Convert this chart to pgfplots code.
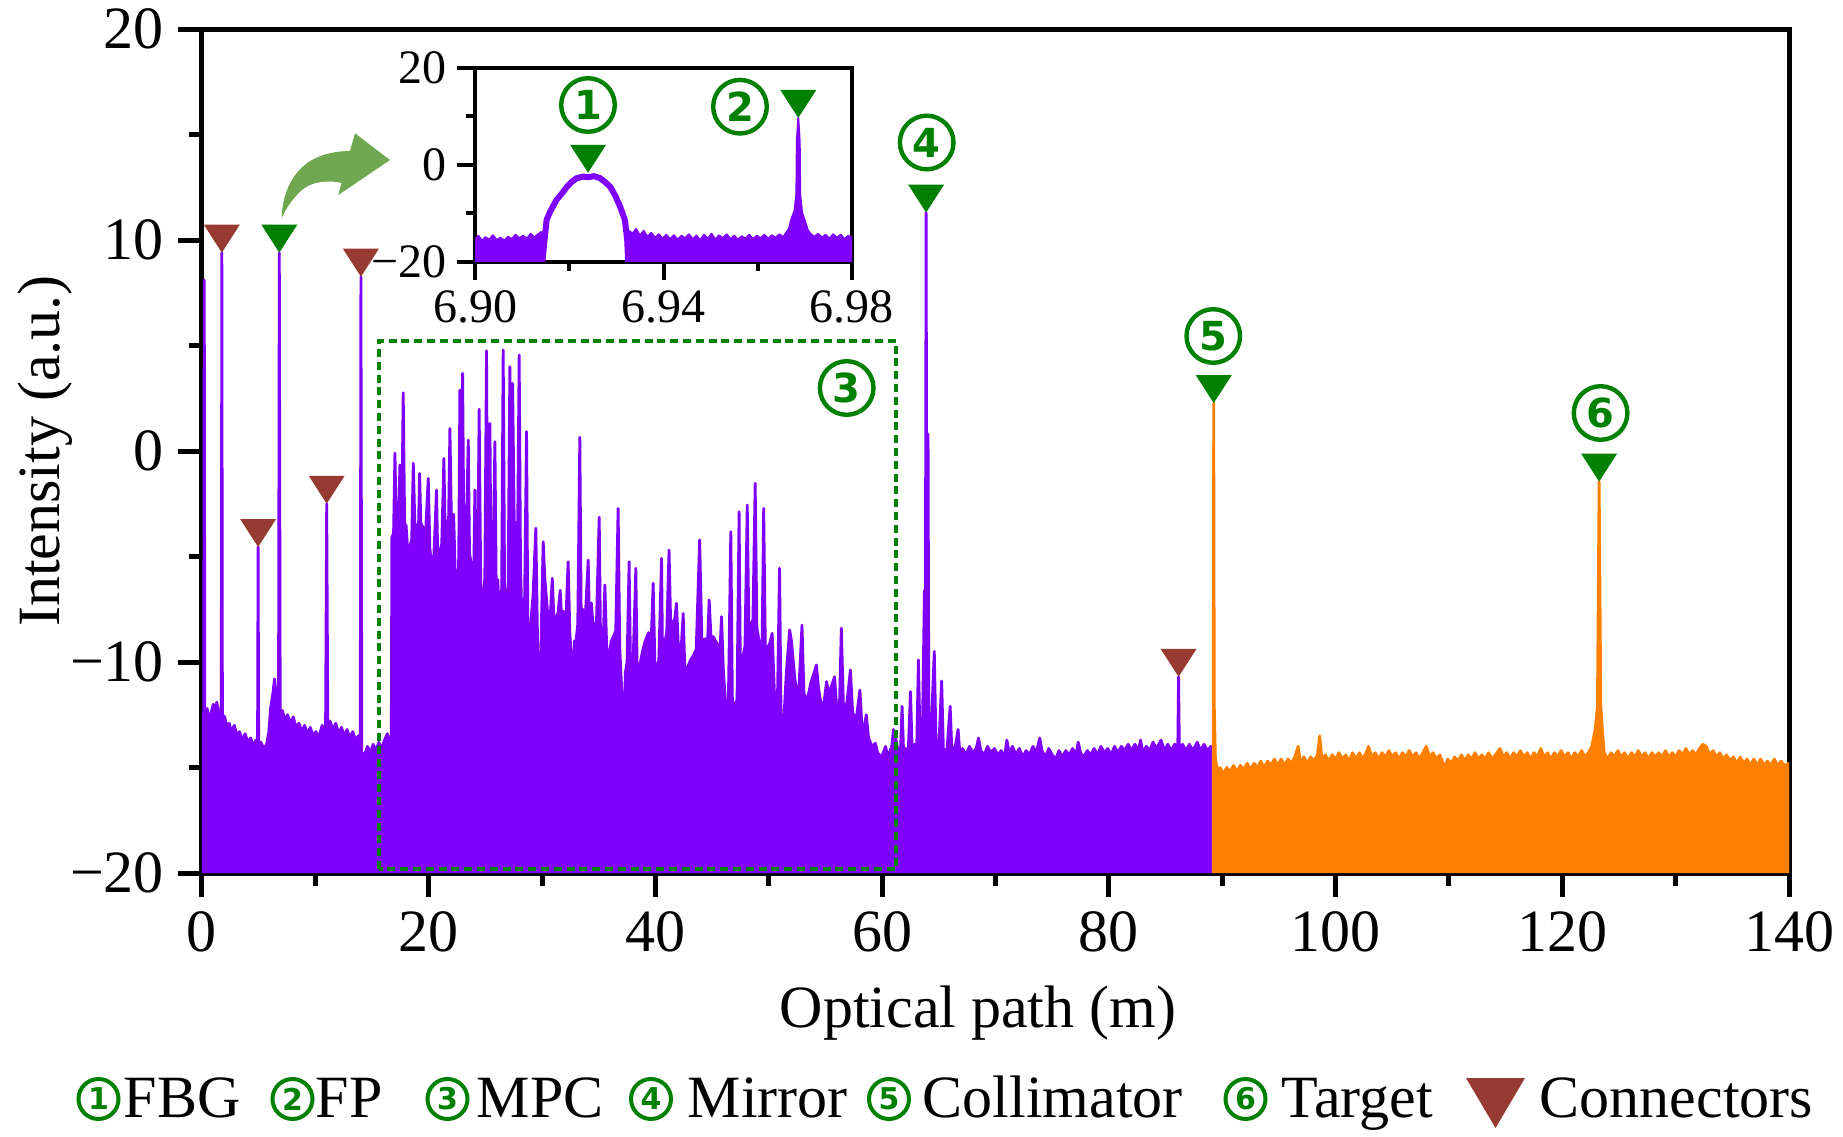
\documentclass[border=0pt]{standalone}
\usepackage{fontspec}
\setmainfont{Liberation Serif}
\newfontfamily\cdfont{DejaVu Sans}
\usepackage{pgfplots}
\pgfplotsset{compat=1.18}
\definecolor{vio}{RGB}{127,0,255}
\definecolor{org}{RGB}{255,128,0}
\definecolor{gg}{RGB}{0,128,0}
\definecolor{br}{RGB}{150,58,50}
\definecolor{ag}{RGB}{112,168,82}
\pgfdeclareplotmark{dtri}{\pgfpathmoveto{\pgfpointorigin}\pgfpathlineto{\pgfpoint{-4.5pt}{7pt}}\pgfpathlineto{\pgfpoint{4.5pt}{7pt}}\pgfpathclose\pgfusepathqfill}
\tikzset{cnum/.style={circle, draw=gg, line width=1.1pt, inner sep=0pt, minimum size=13.4pt, text=gg, font=\fontsize{10}{10}\cdfont\bfseries},
 cnuml/.style={circle, draw=gg, line width=1pt, inner sep=0pt, minimum size=10pt, text=gg, font=\fontsize{7.5}{7.5}\cdfont\bfseries}}
\begin{document}
\begin{tikzpicture}[font=\fontsize{15}{18}\selectfont]
\begin{axis}[at={(0pt,0pt)}, anchor=south west, scale only axis, width=396.75pt, height=211pt,
 xmin=0, xmax=140, ymin=-20, ymax=20,
 xtick={0,20,40,60,80,100,120,140}, xticklabels={0,20,40,60,80,100,120,140},
 minor xtick={10,30,50,70,90,110,130},
 ytick={-20,-10,0,10,20}, yticklabels={−20,−10,0,10,20}, minor ytick={-15,-5,5,15},
 xtick pos=bottom, ytick pos=left, tick align=outside,
 major tick length=6pt, minor tick length=3.2pt,
 major tick style={line width=1.25pt, black}, minor tick style={line width=1.25pt, black},
 axis line style={line width=1.25pt},
 tick label style={font=\fontsize{15}{18}\selectfont},
 xlabel={Optical path (m)}, ylabel={Intensity (a.u.)},
 label style={font=\fontsize{15}{18}\selectfont},
 every axis x label/.style={at={(axis description cs:0.489,-0.166)}, anchor=center},
 every axis y label/.style={at={(axis description cs:-0.0989,0.5)}, rotate=90, anchor=center},
]
\addplot[draw=vio, fill=vio, line width=0.7pt, line join=round, mark=none] coordinates {
(0,-20) (0,-12.6) (0.15,-12.4) (0.2,8.1) (0.25,-12.5) (0.45,-12.2) (0.65,-12.8) (0.85,-12.3) (1.0,-12.0) (1.2,-12.5) (1.3,-11.9) (1.45,-12.3) (1.7,-12.4) (1.75,9.4) (1.8,-12.5) (2.0,-12.6) (2.2,-13.1) (2.4,-12.9) (2.6,-13.3) (2.85,-13.0) (3.1,-13.5) (3.3,-13.3) (3.55,-13.7) (3.8,-13.4) (4.05,-13.8) (4.3,-13.6) (4.55,-14.0) (4.75,-13.7) (4.9,-14.1) (4.95,-4.55) (5.0,-14.1) (5.2,-13.8) (5.45,-14.1) (5.7,-13.9) (5.9,-13.3) (6.05,-12.2) (6.25,-11.5) (6.4,-10.8) (6.55,-11.6) (6.75,-12.4) (6.82,9.4) (6.9,-12.6) (7.1,-12.3) (7.3,-12.8) (7.55,-12.5) (7.8,-12.9) (8.05,-12.6) (8.3,-13.1) (8.55,-12.9) (8.8,-13.3) (9.05,-13.0) (9.3,-13.4) (9.55,-13.1) (9.8,-13.5) (10.05,-13.3) (10.3,-13.6) (10.6,-13.0) (10.9,-13.3) (11.0,-2.5) (11.1,-13.2) (11.3,-12.8) (11.55,-13.2) (11.8,-12.9) (12.05,-13.4) (12.3,-13.1) (12.55,-13.5) (12.8,-13.2) (13.05,-13.6) (13.3,-13.3) (13.55,-13.7) (13.8,-13.5) (13.96,-14.0) (14.02,8.26) (14.1,-14.3) (14.35,-14.4) (14.6,-14.0) (14.85,-14.3) (15.1,-13.9) (15.35,-14.2) (15.6,-13.8) (15.85,-14.1) (16.1,-13.7) (16.35,-13.4) (16.55,-13.8) (16.7,-13.6)
(16.75,-4.1) (16.9,-3.9) (17.02,-0.1) (17.15,-3.8) (17.3,-4.2) (17.46,-0.66) (17.6,-4.4) (17.75,2.76) (17.9,-4.6) (18.0,-3.5) (18.15,-4.7) (18.35,-4.5) (18.5,-4.2) (18.64,-0.58) (18.8,-3.9) (18.95,-3.5) (19.1,-3.6) (19.2,-1.06) (19.3,-3.4) (19.55,-3.7) (19.75,-3.6) (19.96,-1.3) (20.1,-4.6) (20.25,-5.4) (20.45,-5.0) (20.69,-1.85) (20.8,-5.1) (21.0,-4.7) (21.15,-4.4) (21.34,-0.35) (21.45,-3.8) (21.6,-3.3) (21.75,-3.4) (21.87,1.07) (22.0,-3.2) (22.2,-3.0) (22.35,-6.0) (22.5,-8.0) (22.65,-5.0) (22.75,2.89) (22.85,-4.5) (22.99,3.68) (23.1,-4.0) (23.3,-4.3) (23.49,0.52) (23.6,-4.85) (23.8,-5.5) (23.95,-6.8) (24.07,-1.85) (24.2,-7.2) (24.3,-6.5) (24.45,1.98) (24.6,-6.9) (24.8,-6.9) (24.95,-6.0) (25.1,4.75) (25.2,-6.2) (25.4,1.31) (25.5,-6.4) (25.65,-6.0) (25.84,0.44) (25.95,-6.2) (26.1,-6.1) (26.25,-8.0) (26.4,-9.4) (26.57,4.79) (26.7,-7.0) (26.85,-6.6) (27.0,-6.75) (27.16,4.0) (27.3,-4.5) (27.4,3.21) (27.55,-3.6) (27.7,-3.4) (27.85,-3.6) (27.98,4.55) (28.1,-5.5) (28.3,-9.6) (28.45,-7.5) (28.63,0.92) (28.75,-8.5) (28.9,-9.2) (29.05,-7.8) (29.2,-6.9) (29.45,-3.66) (29.6,-9.0) (29.8,-12.4) (29.95,-8.0) (30.1,-4.3) (30.25,-6.1) (30.45,-7.4) (30.6,-8.5) (30.75,-7.6) (30.9,-6.03) (31.05,-8.0) (31.2,-7.9) (31.4,-7.7) (31.6,-6.6) (31.75,-8.2) (31.9,-7.6) (32.1,-8.0) (32.3,-5.25) (32.45,-8.6) (32.6,-10.0) (32.7,-11.6) (32.85,-9.0) (33.0,-9.0) (33.15,-8.2) (33.33,0.65) (33.45,-7.8) (33.6,-7.5) (33.8,-8.0) (34.07,-5.17) (34.2,-8.5) (34.35,-7.2) (34.5,-8.3) (34.8,-8.1) (35.04,-3.14) (35.15,-8.6) (35.4,-8.9) (35.54,-6.35) (35.7,-9.3) (35.9,-9.8) (36.1,-9.0) (36.3,-8.8) (36.5,-8.5) (36.71,-2.72) (36.85,-9.3) (37.0,-11.0) (37.2,-13.6) (37.35,-10.5) (37.5,-10.0) (37.68,-5.25) (37.8,-10.2) (38.0,-10.6) (38.27,-5.56) (38.4,-10.9) (38.6,-10.2) (38.9,-9.4) (39.1,-9.0) (39.4,-8.6) (39.6,-9.4) (39.8,-6.27) (39.95,-10.0) (40.1,-10.4) (40.3,-9.9) (40.54,-5.09) (40.7,-13.6) (40.85,-9.0) (41.0,-8.6) (41.2,-4.69) (41.35,-8.3) (41.5,-8.1) (41.7,-8.0) (41.86,-7.22) (42.0,-9.0) (42.2,-10.0) (42.45,-7.7) (42.6,-10.5) (42.8,-10.3) (43.1,-9.9) (43.3,-9.75) (43.6,-9.4) (43.9,-4.22) (44.1,-9.0) (44.4,-8.9) (44.6,-9.1) (44.74,-7.06) (44.9,-8.8) (45.1,-8.8) (45.4,-9.1) (45.7,-9.4) (45.83,-7.85) (46.0,-10.5) (46.2,-12.0) (46.4,-13.2) (46.65,-3.82) (46.8,-12.5) (47.0,-12.0) (47.2,-11.8) (47.38,-2.88) (47.5,-10.8) (47.7,-9.8) (47.9,-9.25) (48.1,-2.56) (48.25,-8.6) (48.45,-8.2) (48.6,-8.0) (48.8,-1.53) (48.95,-8.4) (49.15,-9.0) (49.4,-9.6) (49.55,-2.72) (49.7,-9.5) (49.9,-9.3) (50.1,-9.1) (50.3,-8.64) (50.5,-11.5) (50.7,-14.0) (50.95,-5.56) (51.1,-13.5) (51.3,-13.0) (51.55,-10.5) (51.84,-8.48) (52.0,-9.0) (52.3,-10.8) (52.6,-11.9) (52.93,-8.25) (53.1,-11.5) (53.4,-11.8) (53.7,-11.0) (54.0,-10.5) (54.2,-10.14) (54.4,-11.3) (54.7,-12.25) (54.9,-11.8) (55.1,-10.93) (55.3,-11.5) (55.5,-11.2) (55.8,-10.7) (56.0,-12.2) (56.2,-12.9) (56.4,-8.4) (56.6,-12.4) (56.9,-11.9) (57.2,-10.38) (57.4,-12.4) (57.7,-12.75) (58.04,-11.33) (58.2,-12.9) (58.4,-13.2) (58.6,-12.5) (58.8,-13.6) (59.1,-14.0) (59.4,-13.85) (59.6,-14.3) (59.9,-14.5) (60.1,-14.3) (60.3,-14.0) (60.5,-14.5) (60.6,-14.35) (60.85,-14.0) (61.0,-13.2) (61.2,-13.6)
(61.4,-14.2) (61.6,-14.5) (61.76,-12.1) (61.9,-14.4) (62.1,-14.1) (62.3,-14.3) (62.5,-11.4) (62.65,-14.2) (62.85,-13.9) (63.05,-14.1) (63.2,-9.9) (63.35,-13.8) (63.55,-13.5) (63.73,-6.6) (63.8,-12.5) (63.88,11.3) (63.96,-12.0) (64.05,0.8) (64.12,-12.8) (64.3,-13.6) (64.6,-9.5) (64.75,-13.8) (65.0,-14.0) (65.25,-10.9) (65.4,-14.1) (65.7,-14.3) (66.0,-12.1) (66.15,-14.2) (66.45,-14.0) (66.7,-13.2) (66.85,-14.3)
(67.1,-14.1) (67.4,-14.4) (67.7,-14.0) (68.0,-14.3) (68.3,-14.1) (68.5,-13.6) (68.7,-14.2) (69.0,-14.4) (69.3,-14.0) (69.6,-14.3) (69.9,-14.1) (70.2,-14.4) (70.5,-14.2) (70.8,-14.5) (71.0,-13.7) (71.2,-14.3) (71.5,-14.0) (71.8,-14.4) (72.1,-14.1) (72.4,-14.5) (72.7,-14.2) (73.0,-14.4) (73.3,-14.0) (73.6,-14.3) (73.9,-13.6) (74.1,-14.2) (74.4,-14.5) (74.7,-14.1) (75.0,-14.4) (75.3,-14.6) (75.6,-14.2) (75.9,-14.5) (76.2,-14.2) (76.5,-14.4) (76.8,-14.1) (77.1,-14.4) (77.3,-13.8) (77.5,-14.3) (77.8,-14.5) (78.1,-14.2) (78.4,-14.4) (78.7,-14.1) (79.0,-14.4) (79.3,-14.0) (79.6,-14.3) (79.9,-14.1) (80.2,-14.4) (80.5,-14.0) (80.8,-14.3) (81.1,-14.0) (81.4,-14.2) (81.7,-13.9) (82.0,-14.2) (82.3,-13.9) (82.6,-14.2) (82.8,-13.7) (83.0,-14.3) (83.3,-14.0) (83.6,-14.2) (83.9,-13.8) (84.2,-14.1) (84.6,-13.7) (84.9,-14.2) (85.2,-13.9) (85.5,-14.2) (85.8,-13.9) (86.08,-14.1) (86.15,-10.7) (86.22,-14.2) (86.5,-13.9) (86.8,-14.2) (87.1,-13.9) (87.4,-14.2) (87.8,-13.8) (88.1,-14.2) (88.4,-13.9) (88.7,-14.2) (89.0,-14.0) (89.2,-14.2) (89.2,-20)
};
\addplot[draw=org, fill=org, line width=0.7pt, line join=round, mark=none] coordinates {
(89.2,-20) (89.2,-14.5) (89.25,2.27) (89.3,-12.1) (89.4,-14.6) (89.6,-15.2) (89.8,-15.0) (90.1,-15.3) (90.4,-15.0) (90.7,-15.2) (91.0,-14.9) (91.3,-15.2) (91.6,-14.9) (91.9,-15.1) (92.2,-14.8) (92.5,-15.1) (92.8,-14.8) (93.1,-15.0) (93.4,-14.7) (93.7,-15.0) (94.0,-14.7) (94.3,-14.9) (94.6,-14.6) (94.9,-14.9) (95.2,-14.6) (95.5,-14.9) (95.8,-14.6) (96.1,-14.8) (96.4,-14.5) (96.7,-14.0) (96.9,-14.8) (97.2,-14.5) (97.5,-14.8) (97.8,-14.5) (98.1,-14.7) (98.4,-14.4) (98.6,-13.5) (98.8,-14.6) (99.1,-14.4) (99.4,-14.7) (99.7,-14.4) (100.0,-14.6) (100.3,-14.3) (100.6,-14.6) (100.9,-14.4) (101.2,-14.7) (101.5,-14.3) (101.8,-14.6) (102.1,-14.3) (102.4,-14.6) (102.7,-14.3) (102.9,-14.0) (103.2,-14.5) (103.5,-14.3) (103.8,-14.6) (104.1,-14.3) (104.4,-14.5) (104.7,-14.2) (105.0,-14.5) (105.3,-14.3) (105.6,-14.6) (105.9,-14.3) (106.2,-14.5) (106.5,-14.2) (106.8,-14.5) (107.1,-14.3) (107.4,-14.6) (107.7,-14.3) (108.0,-14.0) (108.3,-14.5) (108.6,-14.3) (108.9,-14.6) (109.2,-14.4) (109.6,-15.0) (109.9,-14.6) (110.2,-14.8) (110.5,-14.5) (110.8,-14.7) (111.1,-14.4) (111.4,-14.7) (111.7,-14.4) (112.0,-14.6) (112.3,-14.3) (112.6,-14.6) (112.9,-14.4) (113.2,-14.6) (113.5,-14.3) (113.8,-14.6) (114.1,-14.4) (114.5,-14.1) (114.8,-14.5) (115.1,-14.3) (115.4,-14.6) (115.7,-14.3) (116.0,-14.5) (116.3,-14.2) (116.6,-14.5) (116.9,-14.3) (117.2,-14.6) (117.5,-14.3) (117.8,-14.5) (118.1,-14.1) (118.4,-14.5) (118.7,-14.3) (119.0,-14.6) (119.3,-14.3) (119.6,-14.5) (119.9,-14.2) (120.2,-14.5) (120.5,-14.3) (120.8,-14.6) (121.1,-14.3) (121.4,-14.5) (121.7,-14.2) (122.0,-14.5) (122.3,-14.3) (122.6,-14.0) (122.9,-13.2) (123.1,-12.1) (123.25,-1.45) (123.4,-12.1) (123.55,-13.3) (123.7,-14.3) (124.0,-14.6) (124.3,-14.3) (124.6,-14.5) (124.9,-14.2) (125.2,-14.5) (125.5,-14.3) (125.8,-14.6) (126.1,-14.3) (126.4,-14.5) (126.7,-14.2) (127.0,-14.5) (127.3,-14.3) (127.6,-14.6) (127.9,-14.3) (128.2,-14.5) (128.5,-14.3) (128.8,-14.5) (129.1,-14.2) (129.4,-14.5) (129.7,-14.3) (130.0,-14.5) (130.3,-14.2) (130.6,-14.4) (130.9,-14.1) (131.2,-14.4) (131.5,-14.2) (131.8,-14.4) (132.1,-14.1) (132.4,-13.9) (132.7,-14.0) (133.0,-14.4) (133.3,-14.2) (133.6,-14.5) (133.9,-14.3) (134.2,-14.6) (134.5,-14.4) (134.8,-14.7) (135.1,-14.5) (135.4,-14.8) (135.7,-14.5) (136.0,-14.8) (136.3,-14.6) (136.6,-14.9) (136.9,-14.6) (137.2,-14.9) (137.5,-14.6) (137.8,-14.9) (138.1,-14.7) (138.4,-14.9) (138.7,-14.6) (139.0,-14.9) (139.3,-14.7) (139.6,-14.9) (140,-14.8) (140,-20)
};
\addplot[only marks, mark=dtri, color=br] coordinates {(1.75,9.4) (4.95,-4.55) (11.0,-2.5) (14.02,8.26) (86.15,-10.7)};
\addplot[only marks, mark=dtri, color=gg] coordinates {(6.82,9.4) (63.88,11.3) (89.25,2.27) (123.25,-1.45)};
\end{axis}
\begin{axis}[at={(68.25pt,152.75pt)}, anchor=south west, scale only axis, width=94.25pt, height=48.5pt,
 xmin=6.90, xmax=6.98, ymin=-20, ymax=20,
 xtick={6.90,6.94,6.98}, xticklabels={6.90,6.94,6.98}, minor xtick={6.92,6.96},
 ytick={-20,0,20}, yticklabels={−20,0,20}, minor ytick={-10,10},
 xtick pos=bottom, ytick pos=left, tick align=outside,
 major tick length=4.5pt, minor tick length=2.2pt,
 major tick style={line width=1pt, black}, minor tick style={line width=1pt, black},
 axis line style={line width=1pt},
 tick label style={font=\fontsize{12}{14}\selectfont, inner sep=2.5pt},
 axis background/.style={fill=white},
]
\addplot[draw=vio, fill=vio, line width=0.5pt, line join=round, mark=none] coordinates {
(6.900,-20) (6.900,-15.3) (6.9007,-14.6) (6.9015,-15.6) (6.9022,-14.9) (6.903,-15.4) (6.9038,-14.5) (6.9046,-15.5) (6.9054,-15.0) (6.9062,-15.6) (6.907,-14.8) (6.9078,-15.3) (6.9086,-14.4) (6.9094,-15.1) (6.9102,-14.6) (6.911,-15.2) (6.9118,-14.2) (6.9126,-14.9) (6.9134,-14.3) (6.9141,-13.8) (6.9143,-20)
};
\addplot[draw=vio, fill=vio, line width=0.5pt, line join=round, mark=none] coordinates {
(6.9325,-20) (6.9326,-13.5) (6.9334,-14.2) (6.9342,-13.2) (6.935,-14.6) (6.9358,-13.6) (6.9366,-14.8) (6.9374,-14.0) (6.9382,-15.0) (6.939,-14.3) (6.9398,-15.2) (6.9406,-14.4) (6.9414,-15.3) (6.9422,-14.5) (6.943,-15.4) (6.9438,-14.6) (6.9446,-15.1) (6.9454,-14.3) (6.9462,-15.3) (6.947,-14.6) (6.9478,-15.5) (6.9486,-14.4) (6.9494,-15.2) (6.9502,-14.2) (6.951,-15.4) (6.9518,-14.5) (6.9526,-15.1) (6.9534,-14.3) (6.9542,-15.3) (6.955,-14.6) (6.9558,-15.4) (6.9566,-14.7) (6.9574,-15.2) (6.9582,-14.4) (6.959,-15.3) (6.9598,-14.6) (6.9606,-15.1) (6.9614,-14.4) (6.9622,-15.2) (6.963,-14.5) (6.9638,-15.0) (6.9646,-14.3) (6.9654,-14.9) (6.966,-14.0) (6.9666,-13.2) (6.9672,-11.0) (6.9678,-9.5) (6.9682,-6.0) (6.9683,4.8) (6.9686,9.7) (6.9689,4.8) (6.969,-6.0) (6.9694,-9.8) (6.97,-11.5) (6.9706,-13.4) (6.9712,-14.2) (6.972,-14.8) (6.9728,-14.2) (6.9736,-15.0) (6.9744,-14.4) (6.9752,-15.2) (6.976,-14.3) (6.9768,-15.0) (6.9776,-14.4) (6.9784,-15.3) (6.9792,-14.6) (6.98,-15.0) (6.98,-20)
};
\addplot[draw=vio, line width=1.5pt, line join=round, mark=none] coordinates {
(6.9143,-20) (6.9148,-15) (6.9152,-11.3) (6.916,-9.5) (6.9173,-7.2) (6.9185,-5.8) (6.9195,-4.5) (6.9205,-3.5) (6.9216,-2.7) (6.923,-2.4) (6.9241,-2.5) (6.9253,-2.3) (6.9265,-2.7) (6.9276,-3.5) (6.9287,-4.5) (6.9298,-6.4) (6.9308,-8.6) (6.9318,-11.3) (6.9323,-15.5) (6.9325,-20)
};
\addplot[only marks, mark=dtri, color=gg] coordinates {(6.924,-1.6) (6.9686,9.7)};
\end{axis}
\begin{scope}[x=0.25pt, y=-0.25pt, shift={(-50.5pt,218.25pt)}]
\draw[gg, line width=1pt, dash pattern=on 2pt off 1.2pt] (379,869) -- (379,341) -- (896,341) -- (896,869) -- cycle;
\fill[ag] (281.7,218.3) .. controls (282,195) and (292,168) .. (318,157) .. controls (330,152) and (342,151) .. (350,151) -- (355,133.3) -- (390,160) -- (338.3,195) -- (341.5,183) .. controls (330,180) and (312,181) .. (302,190) .. controls (292,199) and (285,210) .. cycle;
\node[cnum] at (846.7,388) {3};
\node[cnum] at (926.7,142.5) {4};
\node[cnum] at (1213.3,336) {5};
\node[cnum] at (1600.6,413) {6};
\node[cnum] at (588,105) {1};
\node[cnum] at (740,106.7) {2};
% legend
\node[cnuml] at (98.5,1099) {1};
\node[anchor=base west, inner sep=0pt] at (123,1117) {FBG};
\node[cnuml] at (292.5,1099) {2};
\node[anchor=base west, inner sep=0pt] at (315,1117) {FP};
\node[cnuml] at (447.5,1099) {3};
\node[anchor=base west, inner sep=0pt] at (476,1117) {MPC};
\node[cnuml] at (651,1099) {4};
\node[anchor=base west, inner sep=0pt] at (687,1117) {Mirror};
\node[cnuml] at (889,1099) {5};
\node[anchor=base west, inner sep=0pt] at (922,1117) {Collimator};
\node[cnuml] at (1245.5,1099) {6};
\node[anchor=base west, inner sep=0pt] at (1281,1117) {Target};
\fill[br] (1466,1078) -- (1525,1078) -- (1495.5,1128) -- cycle;
\node[anchor=base west, inner sep=0pt] at (1539,1117) {Connectors};
\pgfresetboundingbox
\path[use as bounding box] (0,0) rectangle (1843,1136);
\end{scope}
\end{tikzpicture}
\end{document}
